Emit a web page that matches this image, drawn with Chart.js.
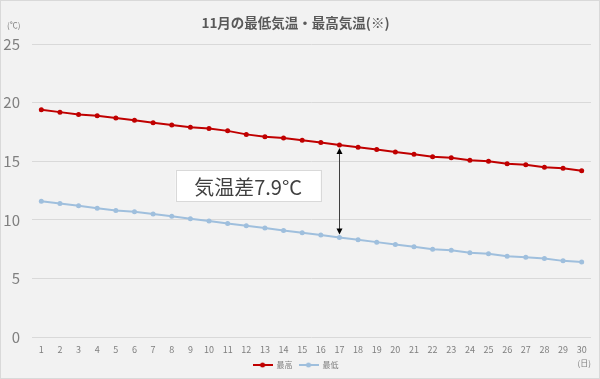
<!DOCTYPE html>
<html lang="ja">
<head>
<meta charset="utf-8">
<title>11月の最低気温・最高気温</title>
<script src="https://cdn.jsdelivr.net/npm/chart.js@4/dist/chart.umd.min.js"></script>
<style>
  html, body { margin: 0; padding: 0; background: #f2f2f2; }
  canvas { display: block; }
</style>
</head>
<body>
<canvas id="tempChart" width="600" height="379"></canvas>
<script>
// data
const days = ['1','2','3','4','5','6','7','8','9','10','11','12','13','14','15',
              '16','17','18','19','20','21','22','23','24','25','26','27','28','29','30'];
const maxTemps = [19.4, 19.2, 19.0, 18.9, 18.7, 18.5, 18.3, 18.1, 17.9, 17.8,
                  17.6, 17.3, 17.1, 17.0, 16.8, 16.6, 16.4, 16.2, 16.0, 15.8,
                  15.6, 15.4, 15.3, 15.1, 15.0, 14.8, 14.7, 14.5, 14.4, 14.2];
const minTemps = [11.6, 11.4, 11.2, 11.0, 10.8, 10.7, 10.5, 10.3, 10.1, 9.9,
                  9.7, 9.5, 9.3, 9.1, 8.9, 8.7, 8.5, 8.3, 8.1, 7.9,
                  7.7, 7.5, 7.4, 7.2, 7.1, 6.9, 6.8, 6.7, 6.5, 6.4];
const yTicks = [0, 5, 10, 15, 20, 25];
const seriesNames = ['最高', '最低'];
const markedDay = '17';

const FONT = '"Noto Sans CJK JP", "Noto Sans", sans-serif';
const RED = '#c00000';
const BLUE = '#9fbfdd';
const GREY = '#7f7f7f';

// small line-with-dot marker for the legend (Excel style)
function makeMarker(color) {
    const c = document.createElement('canvas');
    c.width = 20;
    c.height = 6;
    const g = c.getContext('2d');
    g.strokeStyle = color;
    g.lineWidth = 2;
    g.beginPath();
    g.moveTo(0, 3);
    g.lineTo(20, 3);
    g.stroke();
    g.fillStyle = color;
    g.beginPath();
    g.arc(10, 3, 2.5, 0, Math.PI * 2);
    g.fill();
    return c;
}
const markers = [makeMarker(RED), makeMarker(BLUE)];

const decorPlugin = {
    id: 'decor',
    beforeDraw(chart) {
        const ctx = chart.ctx;
        ctx.save();
        ctx.fillStyle = '#f2f2f2';
        ctx.fillRect(0, 0, chart.width, chart.height);
        ctx.strokeStyle = '#d9d9d9';
        ctx.lineWidth = 1;
        ctx.strokeRect(0.5, 0.5, chart.width - 1, chart.height - 1);
        ctx.restore();
    },
    afterDraw(chart) {
        const ctx = chart.ctx;
        const xs = chart.scales.x;
        const ys = chart.scales.y;
        ctx.save();
        // unit labels
        ctx.fillStyle = GREY;
        ctx.font = '8px ' + FONT;
        ctx.textBaseline = 'middle';
        ctx.textAlign = 'left';
        ctx.fillText('(℃)', 7, 25);
        ctx.textAlign = 'right';
        ctx.fillText('(日)', 591, 363);

        // arrow between the two lines on the marked day
        const i = days.indexOf(markedDay);
        const x = Math.round(xs.getPixelForValue(i)) + 0.5;
        const yTop = ys.getPixelForValue(maxTemps[i]) + 3;
        const yBot = ys.getPixelForValue(minTemps[i]) - 3;
        ctx.strokeStyle = '#404040';
        ctx.fillStyle = '#000000';
        ctx.lineWidth = 1;
        ctx.beginPath();
        ctx.moveTo(x, yTop + 4);
        ctx.lineTo(x, yBot - 4);
        ctx.stroke();
        ctx.beginPath();
        ctx.moveTo(x, yTop);
        ctx.lineTo(x - 3, yTop + 6);
        ctx.lineTo(x + 3, yTop + 6);
        ctx.closePath();
        ctx.fill();
        ctx.beginPath();
        ctx.moveTo(x, yBot);
        ctx.lineTo(x - 3, yBot - 6);
        ctx.lineTo(x + 3, yBot - 6);
        ctx.closePath();
        ctx.fill();

        // label box
        const cx = xs.getPixelForValue(11.1);
        const cy = ys.getPixelForValue(12.9);
        const bw = 145, bh = 31;
        ctx.fillStyle = '#ffffff';
        ctx.fillRect(cx - bw / 2, cy - bh / 2, bw, bh);
        ctx.strokeStyle = '#d9d9d9';
        ctx.strokeRect(Math.round(cx - bw / 2) + 0.5, Math.round(cy - bh / 2) + 0.5, bw, bh);
        const diff = (maxTemps[i] - minTemps[i]).toFixed(1);
        ctx.fillStyle = '#404040';
        ctx.font = '20px ' + FONT;
        ctx.textAlign = 'center';
        ctx.textBaseline = 'middle';
        ctx.fillText('気温差' + diff + '°C', cx, cy + 1);
        ctx.restore();
    }
};

const ctx = document.getElementById('tempChart').getContext('2d');
new Chart(ctx, {
    type: 'line',
    data: {
        labels: days,
        datasets: [{
            label: seriesNames[0],
            data: maxTemps,
            borderColor: RED,
            backgroundColor: RED,
            borderWidth: 2,
            pointRadius: 2.5,
            pointBorderWidth: 0,
            tension: 0
        }, {
            label: seriesNames[1],
            data: minTemps,
            borderColor: BLUE,
            backgroundColor: BLUE,
            borderWidth: 2,
            pointRadius: 2.5,
            pointBorderWidth: 0,
            tension: 0
        }]
    },
    options: {
        responsive: false,
        animation: false,
        layout: { padding: { left: 0, right: 9, top: 0, bottom: 0 } },
        plugins: {
            title: {
                display: true,
                text: '11月の最低気温・最高気温(※)',
                color: '#595959',
                font: { family: FONT, size: 13.5, weight: 'bold' },
                padding: { top: 15, bottom: 13 }
            },
            legend: {
                position: 'bottom',
                labels: {
                    color: GREY,
                    font: { family: FONT, size: 8 },
                    usePointStyle: true,
                    pointStyleWidth: 20,
                    boxHeight: 8,
                    padding: 6,
                    generateLabels: chart => chart.data.datasets.map((ds, i) => ({
                        text: ds.label,
                        pointStyle: markers[i],
                        fontColor: GREY,
                        datasetIndex: i,
                        hidden: !chart.isDatasetVisible(i),
                        lineWidth: 0,
                        strokeStyle: 'transparent',
                        fillStyle: 'transparent'
                    }))
                }
            },
            tooltip: { enabled: false }
        },
        scales: {
            x: {
                offset: true,
                grid: { display: false, drawTicks: false },
                border: { display: false },
                ticks: {
                    color: GREY,
                    font: { family: FONT, size: 9 },
                    autoSkip: false,
                    maxRotation: 0,
                    padding: 7
                },
                afterFit: s => { s.height = 18; }
            },
            y: {
                min: 0,
                max: 25,
                afterBuildTicks: s => { s.ticks = yTicks.map(v => ({ value: v })); },
                grid: { color: '#d9d9d9', drawTicks: false },
                border: { display: false },
                ticks: {
                    color: GREY,
                    font: { family: FONT, size: 15 },
                    padding: 12
                },
                afterFit: s => { s.width = 32; }
            }
        }
    },
    plugins: [decorPlugin]
});
</script>
</body>
</html>
